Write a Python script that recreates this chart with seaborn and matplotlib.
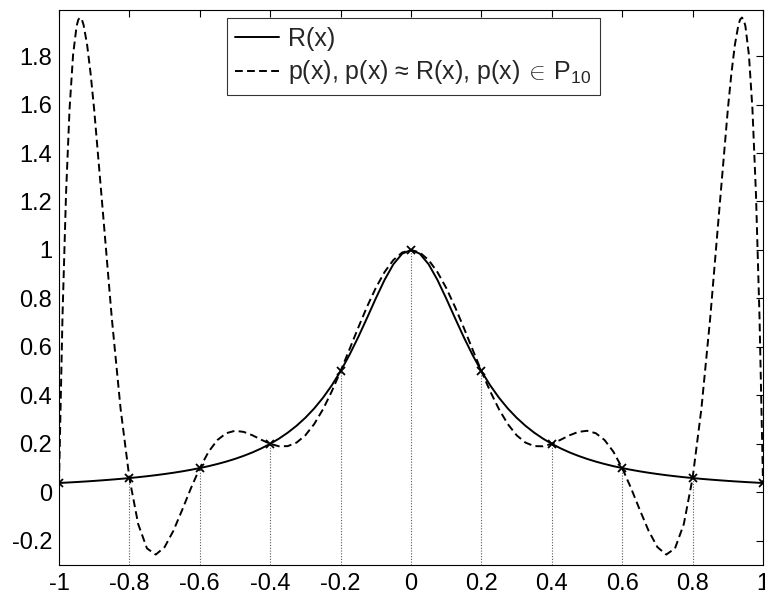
import numpy as np
import pandas as pd
import matplotlib
matplotlib.use('Agg')
import matplotlib.pyplot as plt
import seaborn as sns

# sample points (denser near the big end spikes)
x_vals = [-1.0, -0.99, -0.98, -0.97, -0.96, -0.95, -0.945, -0.94, -0.935, -0.93, -0.92, -0.91,
          -0.9, -0.875, -0.85, -0.825, -0.8, -0.775, -0.75, -0.725, -0.7, -0.675, -0.65, -0.625,
          -0.6, -0.575, -0.55, -0.525, -0.5, -0.475, -0.45, -0.425, -0.4, -0.375, -0.35, -0.325,
          -0.3, -0.275, -0.25, -0.225, -0.2, -0.175, -0.15, -0.125, -0.1, -0.075, -0.05, -0.025,
          0.0,
          0.025, 0.05, 0.075, 0.1, 0.125, 0.15, 0.175, 0.2, 0.225, 0.25, 0.275, 0.3,
          0.325, 0.35, 0.375, 0.4, 0.425, 0.45, 0.475, 0.5, 0.525, 0.55, 0.575, 0.6,
          0.625, 0.65, 0.675, 0.7, 0.725, 0.75, 0.775, 0.8, 0.825, 0.85, 0.875, 0.9,
          0.91, 0.92, 0.93, 0.935, 0.94, 0.945, 0.95, 0.96, 0.97, 0.98, 0.99, 1.0]

r_vals = [0.0385, 0.0392, 0.0400, 0.0408, 0.0416, 0.0424, 0.0429, 0.0433, 0.0438, 0.0442, 0.0451, 0.0461,
          0.0471, 0.0497, 0.0525, 0.0555, 0.0588, 0.0624, 0.0664, 0.0707, 0.0755, 0.0807, 0.0865, 0.0929,
          0.1000, 0.1079, 0.1168, 0.1267, 0.1379, 0.1506, 0.1649, 0.1813, 0.2000, 0.2215, 0.2462, 0.2747,
          0.3077, 0.3459, 0.3902, 0.4414, 0.5000, 0.5664, 0.6400, 0.7191, 0.8000, 0.8767, 0.9412, 0.9846,
          1.0,
          0.9846, 0.9412, 0.8767, 0.8000, 0.7191, 0.6400, 0.5664, 0.5000, 0.4414, 0.3902, 0.3459, 0.3077,
          0.2747, 0.2462, 0.2215, 0.2000, 0.1813, 0.1649, 0.1506, 0.1379, 0.1267, 0.1168, 0.1079, 0.1000,
          0.0929, 0.0865, 0.0807, 0.0755, 0.0707, 0.0664, 0.0624, 0.0588, 0.0555, 0.0525, 0.0497, 0.0471,
          0.0461, 0.0451, 0.0442, 0.0438, 0.0433, 0.0429, 0.0424, 0.0416, 0.0408, 0.0400, 0.0392, 0.0385]

p_vals = [0.0385, 0.7261, 1.2303, 1.5810, 1.8044, 1.9236, 1.9506, 1.9590, 1.9508, 1.9279, 1.8459, 1.7258,
          1.5787, 1.1517, 0.7195, 0.3451, 0.0588, -0.1312, -0.2315, -0.2569, -0.2262, -0.1588, -0.0726, 0.0175,
          0.1000, 0.1674, 0.2156, 0.2438, 0.2538, 0.2492, 0.2350, 0.2167, 0.2000, 0.1899, 0.1906, 0.2052,
          0.2354, 0.2815, 0.3426, 0.4166, 0.5000, 0.5890, 0.6790, 0.7653, 0.8434, 0.9090, 0.9586, 0.9895,
          1.0,
          0.9895, 0.9586, 0.9090, 0.8434, 0.7653, 0.6790, 0.5890, 0.5000, 0.4166, 0.3426, 0.2815, 0.2354,
          0.2052, 0.1906, 0.1899, 0.2000, 0.2167, 0.2350, 0.2492, 0.2538, 0.2438, 0.2156, 0.1674, 0.1000,
          0.0175, -0.0726, -0.1588, -0.2262, -0.2569, -0.2315, -0.1312, 0.0588, 0.3451, 0.7195, 1.1517, 1.5787,
          1.7258, 1.8459, 1.9279, 1.9508, 1.9590, 1.9506, 1.9236, 1.8044, 1.5810, 1.2303, 0.7261, 0.0385]

# interpolation nodes
node_x = [-1.0, -0.8, -0.6, -0.4, -0.2, 0.0, 0.2, 0.4, 0.6, 0.8, 1.0]
node_y = [0.0385, 0.0588, 0.1, 0.2, 0.5, 1.0, 0.5, 0.2, 0.1, 0.0588, 0.0385]

x_ticks = [-1, -0.8, -0.6, -0.4, -0.2, 0, 0.2, 0.4, 0.6, 0.8, 1]
x_labels = ['-1', '-0.8', '-0.6', '-0.4', '-0.2', '0', '0.2', '0.4', '0.6', '0.8', '1']
y_ticks = [-0.2, 0, 0.2, 0.4, 0.6, 0.8, 1.0, 1.2, 1.4, 1.6, 1.8]
y_labels = ['-0.2', '0', '0.2', '0.4', '0.6', '0.8', '1', '1.2', '1.4', '1.6', '1.8']

df = pd.DataFrame({'x': x_vals, 'R': r_vals, 'p': p_vals})

sns.set_style('white')
plt.rcParams['font.family'] = ['Liberation Sans', 'DejaVu Sans']
plt.rcParams['mathtext.fontset'] = 'custom'
plt.rcParams['mathtext.rm'] = 'Liberation Sans'
plt.rcParams['mathtext.it'] = 'Liberation Sans'

fig = plt.figure(figsize=(7.65, 5.94), dpi=100)
ax = fig.add_axes([0.0771, 0.0488, 0.9203, 0.9343])

ax.vlines(node_x, -0.3, node_y, colors='0.35', linestyles=(0, (1, 1.5)), linewidth=0.8)
sns.lineplot(data=df, x='x', y='R', ax=ax, color='black', linewidth=1.4,
             estimator=None, label='R(x)')
sns.lineplot(data=df, x='x', y='p', ax=ax, color='black', linewidth=1.4,
             estimator=None, label=r'p(x), p(x) ≈ R(x), p(x)$\:\in\:\mathrm{P}_{10}$')
ax.lines[-1].set_dashes((4.0, 2.2))
ax.plot(node_x, node_y, linestyle='none', marker='x', color='black',
        markersize=5.5, markeredgewidth=1.3)

ax.set_xlim(-1, 1)
ax.set_ylim(-0.3, 1.99)
ax.set_xticks(x_ticks)
ax.set_xticklabels(x_labels)
ax.set_yticks(y_ticks)
ax.set_yticklabels(y_labels)
ax.set_xlabel('')
ax.set_ylabel('')
ax.tick_params(direction='in', length=5, width=0.8, colors='black',
               top=True, right=True, labelsize=17)
ax.tick_params(axis='x', pad=6)
ax.tick_params(axis='y', pad=5)
for s in ax.spines.values():
    s.set_color('black')
    s.set_linewidth(0.8)

leg = ax.legend(loc='upper left', bbox_to_anchor=(0.238, 0.9856), fontsize=18,
                frameon=True, fancybox=False, borderaxespad=0, handlelength=1.75,
                handletextpad=0.35, borderpad=0.35, labelspacing=0.3)
leg.get_frame().set_edgecolor('black')
leg.get_frame().set_linewidth(0.8)

fig.savefig('out.png', dpi=100)
